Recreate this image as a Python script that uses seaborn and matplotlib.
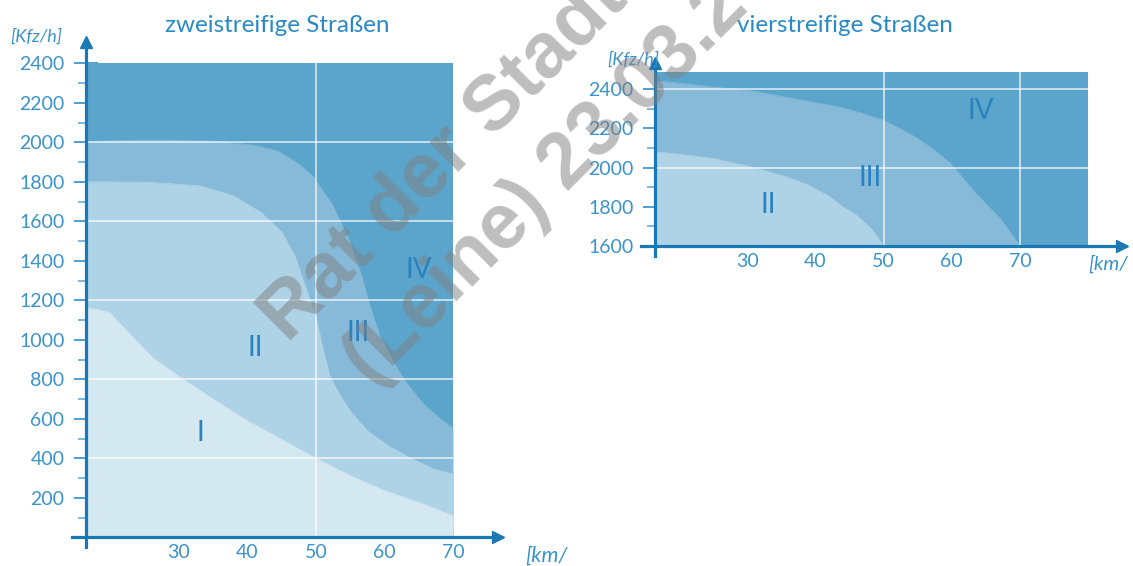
import matplotlib.pyplot as plt
import seaborn as sns

# CONFIG
sns.set_theme(style="white")
plt.rcParams["font.family"] = ["Lato", "DejaVu Sans"]

C_IV = "#5ba5cc"
C_III = "#86bad8"
C_II = "#afd3e6"
C_I = "#d4e8f2"
AXIS = "#1a78b5"
TXT = "#3a93cc"
LBL = "#2a82c0"

# DATA - zweistreifige Straßen (x: km/h, y: Kfz/h)
two_top = 2400
two_x = [16.5, 70]
two_b1_x = [16.5, 18, 20, 22.7, 26.2, 30, 35, 40, 45, 50, 55, 60, 65, 70]
two_b1_y = [1160, 1155, 1135, 1035, 910, 815, 700, 590, 495, 400, 312, 236, 177, 108]
two_b2_x = [16.5, 20, 26, 33, 38, 42, 45, 47, 48.8, 50, 51, 52, 53.5, 55, 57.5, 60.5, 64, 67.2, 70]
two_b2_y = [1800, 1800, 1797, 1780, 1730, 1645, 1548, 1420, 1237, 1120, 960, 820, 720, 640, 540, 465, 398, 345, 320]
two_b3_x = [16.5, 18, 26, 35.5, 41, 44.5, 47.5, 49.5, 52.3, 54.9, 56.8, 57.7, 59.4, 61.8, 63, 65.7, 67.8, 70]
two_b3_y = [2000, 2005, 2012, 2005, 1985, 1955, 1890, 1830, 1690, 1500, 1310, 1190, 1010, 860, 790, 675, 610, 550]
two_labels = ["I", "II", "III", "IV"]
two_label_x = [33.2, 41.2, 56.1, 65]
two_label_y = [528, 958, 1034, 1353]
two_grid_y = [400, 800, 1200, 1600, 2000]
two_grid_x = [50]
two_yticks = list(range(200, 2401, 200))
two_yminor = list(range(100, 2400, 200))

# DATA - vierstreifige Straßen
four_top = 2487
four_base = 1600
four_x = [16.5, 80]
four_b2_x = [16.5, 20, 25, 30.5, 35.7, 39, 42, 44, 46.2, 48.3, 50, 80]
four_b2_y = [2080, 2068, 2046, 2004, 1953, 1910, 1853, 1800, 1752, 1684, 1600, 1600]
four_b3_x = [16.5, 20, 25.5, 30.5, 35.7, 43.6, 46.5, 50, 52, 54.6, 57, 59.8, 61.5, 63.5, 67.2, 70, 80]
four_b3_y = [2442, 2430, 2408, 2391, 2358, 2307, 2280, 2240, 2205, 2156, 2100, 2021, 1950, 1869, 1735, 1600, 1600]
four_labels = ["II", "III", "IV"]
four_label_x = [33.1, 48, 64.2]
four_label_y = [1809, 1946, 2287]
four_grid_y = [2000, 2400]
four_grid_x = [50, 70]
four_yticks = list(range(1600, 2401, 200))
four_yminor = list(range(1700, 2400, 200))

xticks = [30, 40, 50, 60, 70]


def setup_axes(ax, xlim, ylim, base, yticks, yminor):
    ax.set_xlim(xlim)
    ax.set_ylim(ylim)
    for s in ["top", "right"]:
        ax.spines[s].set_visible(False)
    ax.spines["left"].set_position(("data", 16.5))
    ax.spines["bottom"].set_position(("data", base))
    for s in ["left", "bottom"]:
        ax.spines[s].set_color(AXIS)
        ax.spines[s].set_linewidth(2.3)
        ax.spines[s].set_zorder(5)
    ax.plot(1, base, ">", color=AXIS, ms=9, transform=ax.get_yaxis_transform(), clip_on=False, zorder=6)
    ax.plot(16.5, 1, "^", color=AXIS, ms=9, transform=ax.get_xaxis_transform(), clip_on=False, zorder=6)
    ax.set_yticks(yticks)
    ax.set_yticks(yminor, minor=True)
    ax.set_xticks(xticks)
    ax.tick_params(axis="y", which="major", direction="inout", length=17, width=1.4,
                   color="#4f9fd3", labelcolor=TXT, labelsize=14, pad=7, left=True)
    ax.tick_params(axis="y", which="minor", direction="inout", length=11, width=1.4,
                   color="#7ab8e0", left=True)
    ax.tick_params(axis="x", direction="in", length=6, width=1.4, color="#a9cfe7",
                   labelcolor=TXT, labelsize=14, pad=5, bottom=True)
    ax.set_facecolor("none")
    ax.grid(False)


fig = plt.figure(figsize=(11.33, 5.66), dpi=100)

# LEFT PANEL
ax1 = fig.add_axes([0.0638, 0.0332, 0.3754, 0.8933])
ax1.fill_between(two_x, 0, two_top, color=C_IV, lw=0)
ax1.fill_between(two_b3_x, 0, two_b3_y, color=C_III, lw=0)
ax1.fill_between(two_b2_x, 0, two_b2_y, color=C_II, lw=0)
ax1.fill_between(two_b1_x, 0, two_b1_y, color=C_I, lw=0)
sns.lineplot(x=two_b3_x, y=two_b3_y, color=C_III, lw=0.6, ax=ax1)
sns.lineplot(x=two_b2_x, y=two_b2_y, color=C_II, lw=0.6, ax=ax1)
sns.lineplot(x=two_b1_x, y=two_b1_y, color=C_I, lw=0.6, ax=ax1)
ax1.hlines(two_grid_y, two_x[0], two_x[1], colors="white", lw=1.2, alpha=0.75, zorder=3)
ax1.vlines(two_grid_x, 0, two_top, colors="white", lw=1.2, alpha=0.75, zorder=3)
for t, x, y in zip(two_labels, two_label_x, two_label_y):
    ax1.text(x, y, t, ha="center", va="center", fontsize=20, color=LBL, zorder=4)
setup_axes(ax1, (14.5, 76.5), (-50, 2510), 0, two_yticks, two_yminor)

# RIGHT PANEL
ax2 = fig.add_axes([0.5661, 0.548, 0.4245, 0.3415])
ax2.fill_between(four_x, four_base, four_top, color=C_IV, lw=0)
ax2.fill_between(four_b3_x, four_base, four_b3_y, color=C_III, lw=0)
ax2.fill_between(four_b2_x, four_base, four_b2_y, color=C_II, lw=0)
sns.lineplot(x=four_b3_x, y=four_b3_y, color=C_III, lw=0.6, ax=ax2)
sns.lineplot(x=four_b2_x, y=four_b2_y, color=C_II, lw=0.6, ax=ax2)
ax2.hlines(four_grid_y, four_x[0], four_x[1], colors="white", lw=1.2, alpha=0.75, zorder=3)
ax2.vlines(four_grid_x, four_base, four_top, colors="white", lw=1.2, alpha=0.75, zorder=3)
for t, x, y in zip(four_labels, four_label_x, four_label_y):
    ax2.text(x, y, t, ha="center", va="center", fontsize=20, color=LBL, zorder=4)
setup_axes(ax2, (14.5, 85), (1550, 2535), four_base, four_yticks, four_yminor)

# TITLES AND UNITS
W, H = 1133, 566
fig.text(277 / W, 1 - 25 / H, "zweistreifige Straßen", ha="center", va="center", fontsize=17.5, color="#2a8ac6")
fig.text(845 / W, 1 - 25 / H, "vierstreifige Straßen", ha="center", va="center", fontsize=17.5, color="#2a8ac6")
fig.text(36 / W, 1 - 37 / H, "[Kfz/h]", ha="center", va="center", fontsize=13, style="italic", color=TXT)
fig.text(633 / W, 1 - 60 / H, "[Kfz/h]", ha="center", va="center", fontsize=13, style="italic", color=TXT)
fig.text(525 / W, 1 - 556 / H, "[km/", ha="left", va="center", fontsize=15.5, style="italic", color=TXT)
fig.text(1128 / W, 1 - 264 / H, "[km/", ha="right", va="center", fontsize=14.5, style="italic", color=TXT)

# WATERMARK
for txt, px, py in [("Rat der Stadt", 287, 343), ("(Leine) 23.03.2", 372, 388)]:
    fig.text(px / W, 1 - py / H, txt, rotation=45, rotation_mode="anchor", ha="left", va="baseline",
             fontsize=56, fontweight="bold", family="Liberation Sans", color="#7f7f7f", alpha=0.51, zorder=10)

fig.savefig("out.png", dpi=100)
